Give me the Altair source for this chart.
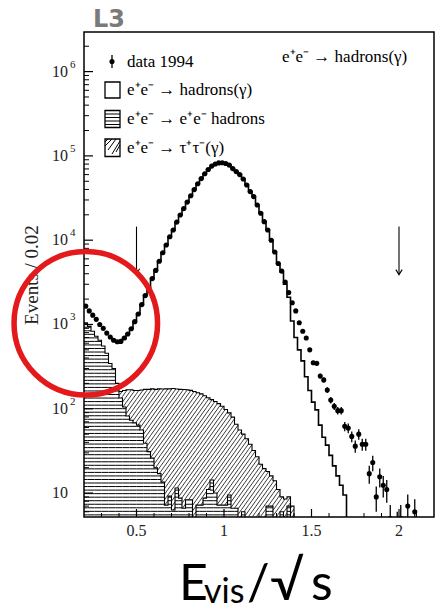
import math
import altair as alt
import pandas as pd

# ---------------------------------------------------------------
# Histogram contents, bin width 0.02 in E_vis / sqrt(s)
# ---------------------------------------------------------------
BIN_W = 0.02
X_DOMAIN = [0.2, 2.2]
Y_DOMAIN = [5.2, 2.95e6]


def centres(first, count):
    return [round(first + BIN_W * i, 2) for i in range(count)]


# data 1994 (events per bin), bins 0.21 ... 1.93
data_n = [
    1650, 1450, 1290, 1150, 1000, 900, 790, 710, 650, 625,
    630, 690, 770, 890, 1080, 1330, 1720, 2200, 2750, 3500,
    4380, 5620, 7100, 8750, 11000, 13200, 16400, 19900, 23700, 28300,
    33600, 39800, 46700, 53800, 61400, 68900, 75700, 80000, 82600, 82800,
    81300, 77800, 70700, 65100, 60000, 53100, 45100, 37700, 32900, 26100,
    20900, 16600, 13200, 10000, 7230, 5280, 4300, 3180, 2390, 1810,
    1450, 1050, 830, 690, 500, 352, 346, 245, 220, 167,
    127, 107, 95, 95, 62, 59, 47, 36, 50, 38,
    38, 17, 23, 9, 15.6, 12.4, 11,
]
data_x = centres(0.21, len(data_n))
# sparse high-energy tail of the data
data_tail_x = [1.95, 1.99, 2.01, 2.05, 2.09]
data_tail_n = [5, 4, 5, 7, 6]

# e+e- -> hadrons(gamma) simulation, bins 0.35 ... 1.69
mc_n = [
    690, 640, 615, 625, 680, 770, 890, 1080, 1330, 1720,
    2200, 2750, 3500, 4380, 5620, 7100, 8750, 11000, 13200, 16400,
    19900, 23700, 28300, 33600, 39800, 46700, 53800, 61400, 68900, 75700,
    80000, 82600, 82800, 81300, 77800, 70700, 65100, 60000, 53100, 45100,
    37700, 32900, 26100, 20900, 16600, 13200, 10000, 7230, 5280, 4200,
    3000, 2100, 1100, 700, 500, 370, 240, 165, 120, 97,
    64, 46, 37, 28, 21, 16, 12.4, 9.5,
]
mc_x = centres(0.35, len(mc_n))

# e+e- -> e+e- hadrons (two-photon), bins 0.21 ... 1.39
ggh_n = [
    1050, 950, 830, 725, 650, 555, 455, 345, 300, 200,
    134, 105, 82, 73, 68, 64, 56, 39, 31, 26,
    20, 17, 13.5, 7.2, 9.2, 6.3, 11.5, 8.7, 6.6, 8.3,
    8.3, 0, 7.2, 7.2, 8.7, 11, 14.3, 10, 7.2, 7.2,
    7.2, 9.5, 6.6, 6.6, 0, 6, 0, 0, 0, 0,
    0, 0, 7, 7, 0, 0, 6, 0, 7, 0,
]
ggh_x = centres(0.21, len(ggh_n))

# e+e- -> tau+tau-(gamma), bins 0.41 ... 1.39 (stacked on two-photon)
tau_n = [
    26, 60, 86, 95, 97, 101, 111, 131, 139, 146,
    150, 155, 158, 165, 163, 168, 160, 161, 163, 160,
    157, 160, 148, 143, 134, 124, 114, 112, 108, 100,
    91, 80, 73, 59, 56, 44, 44, 38, 32, 27,
    22, 19.5, 11, 9, 14, 11, 3, 8.5, 2, 7,
]
tau_x = centres(0.41, len(tau_n))

# selection cuts marked with arrows
cut_x = [0.5, 2.0]
cut_top = [14500, 14500]
cut_tip = [4000, 3900]

# axis ticks and labels
y_decades = [10, 100, 1e3, 1e4, 1e5, 1e6]
y_exponents = ["", "2", "3", "4", "5", "6"]
x_major = [0.5, 1.0, 1.5, 2.0]
x_labels = ["0.5", "1", "1.5", "2"]

# ---------------------------------------------------------------
W, H = 350, 485
SERIF = "'Liberation Serif', 'Times New Roman', serif"
LOG_MIN = math.log10(Y_DOMAIN[0])

xs = alt.Scale(domain=X_DOMAIN, nice=False, zero=False)
ys = alt.Scale(type="log", domain=Y_DOMAIN, nice=False)


def X(f="x"):
    return alt.X(f"{f}:Q", scale=xs, axis=None)


def Y(f="y"):
    return alt.Y(f"{f}:Q", scale=ys, axis=None)


def step_path(xc, n, close_right=True):
    rows = []
    for c, v in zip(xc, n):
        v = v if v > 0 else 1.0
        rows.append((c - BIN_W / 2, v))
        rows.append((c + BIN_W / 2, v))
    if close_right:
        rows.append((xc[-1] + BIN_W / 2, 1.0))
    return pd.DataFrame({"x": [r[0] for r in rows], "y": [r[1] for r in rows],
                         "i": range(len(rows))})


# stacked tau histogram top
ggh_map = dict(zip(ggh_x, ggh_n))
tau_top = [ggh_map.get(c, 0) + t for c, t in zip(tau_x, tau_n)]

# horizontal hatching for the two-photon histogram
H_STEP = 0.042
h_rows = []
for c, n in zip(ggh_x, ggh_n):
    if n <= Y_DOMAIN[0]:
        continue
    top = math.log10(n)
    k = 0
    while True:
        lv = LOG_MIN + H_STEP * (k + 0.6)
        if lv >= top - 0.01:
            break
        h_rows.append({"x": c - BIN_W / 2, "x2": c + BIN_W / 2, "y": 10 ** lv})
        k += 1
h_df = pd.DataFrame(h_rows)

# diagonal hatching for the tau histogram
SLOPE = 2.9
D_STEP = SLOPE * 4.0 / W * (X_DOMAIN[1] - X_DOMAIN[0])
d_rows = []
for c, hi_n in zip(tau_x, tau_top):
    a, b = c - BIN_W / 2, c + BIN_W / 2
    lo_n = ggh_map.get(c, 0)
    lo = math.log10(lo_n) if lo_n > Y_DOMAIN[0] else LOG_MIN
    hi = math.log10(hi_n)
    if hi <= lo:
        continue
    kmin = math.floor((lo - SLOPE * b) / D_STEP)
    kmax = math.ceil((hi - SLOPE * a) / D_STEP)
    for k in range(kmin, kmax + 1):
        cc = k * D_STEP
        x1 = max(a, (lo - cc) / SLOPE)
        x2 = min(b, (hi - cc) / SLOPE)
        if x2 > x1 + 1e-6:
            d_rows.append({"x": x1, "x2": x2,
                           "y": 10 ** (cc + SLOPE * x1), "y2": 10 ** (cc + SLOPE * x2)})
d_df = pd.DataFrame(d_rows)

tau_hatch = alt.Chart(d_df).mark_rule(color="#222", strokeWidth=0.9, clip=True).encode(
    x=X(), x2="x2:Q", y=Y(), y2="y2:Q")
tau_line = alt.Chart(step_path(tau_x, tau_top)).mark_line(
    color="black", strokeWidth=1.1, clip=True).encode(x=X(), y=Y(), order="i:Q")

ggh_hatch = alt.Chart(h_df).mark_rule(color="black", strokeWidth=1.0, clip=True).encode(
    x=X(), x2="x2:Q", y=Y())
ggh_line = alt.Chart(step_path(ggh_x, ggh_n)).mark_line(
    color="black", strokeWidth=1.1, clip=True).encode(x=X(), y=Y(), order="i:Q")

mc_line = alt.Chart(step_path(mc_x, mc_n)).mark_line(
    color="black", strokeWidth=1.6, clip=True).encode(x=X(), y=Y(), order="i:Q")

pts = pd.DataFrame({"x": data_x + data_tail_x, "y": data_n + data_tail_n})
pts["lo"] = [max(v - math.sqrt(v), 0.5) for v in pts["y"]]
pts["hi"] = [v + math.sqrt(v) for v in pts["y"]]
err = alt.Chart(pts).mark_rule(color="black", strokeWidth=1.3, clip=True).encode(
    x=X(), y=Y("lo"), y2="hi:Q")
dots = alt.Chart(pts).mark_circle(color="black", size=26, opacity=1, clip=True).encode(
    x=X(), y=Y())

cuts = pd.DataFrame({"x": cut_x, "top": cut_top, "tip": cut_tip})
cut_shaft = alt.Chart(cuts).mark_rule(color="black", strokeWidth=1.1).encode(
    x=X(), y=Y("top"), y2="tip:Q")
cut_head = alt.Chart(cuts).mark_point(
    shape="M-1,-1.6L0,0L1,-1.6", filled=False, color="black", strokeWidth=1.1,
    size=40, opacity=1).encode(x=X(), y=Y("tip"))

# inward axis ticks
y_minor = [m * 10 ** k for k in range(0, 7) for m in range(2, 10)
           if Y_DOMAIN[0] < m * 10 ** k < Y_DOMAIN[1]]
x_minor = [round(0.3 + 0.1 * i, 1) for i in range(19)]
x_minor = [v for v in x_minor if all(abs(v - m) > 1e-6 for m in x_major)]

ytick_major = alt.Chart(pd.DataFrame({"y": y_decades})).mark_rule(
    color="black", strokeWidth=1.2).encode(y=Y(), x=alt.value(0), x2=alt.value(9))
ytick_minor = alt.Chart(pd.DataFrame({"y": y_minor})).mark_rule(
    color="black", strokeWidth=1.0).encode(y=Y(), x=alt.value(0), x2=alt.value(5))
xtick_major = alt.Chart(pd.DataFrame({"x": x_major})).mark_rule(
    color="black", strokeWidth=1.2).encode(x=X(), y=alt.value(H), y2=alt.value(H - 8))
xtick_minor = alt.Chart(pd.DataFrame({"x": x_minor})).mark_rule(
    color="black", strokeWidth=1.0).encode(x=X(), y=alt.value(H), y2=alt.value(H - 4))

# tick labels
ylab_df = pd.DataFrame({"y": y_decades, "e": y_exponents})
ylab = alt.Chart(ylab_df).mark_text(
    font=SERIF, fontSize=16, color="#222", align="right", baseline="middle").encode(
    y=Y(), x=alt.value(-16), text="base:N").transform_calculate(base="'10'")
yexp = alt.Chart(ylab_df).mark_text(
    font=SERIF, fontSize=11, color="#222", align="left", baseline="middle", dy=-7).encode(
    y=Y(), x=alt.value(-14), text="e:N")
xlab = alt.Chart(pd.DataFrame({"x": x_major, "t": x_labels})).mark_text(
    font=SERIF, fontSize=16, color="#222", baseline="middle").encode(
    x=X(), y=alt.value(H + 14), text="t:N")

# legend inside the frame
leg_txt = pd.DataFrame({
    "px": [43, 43, 43, 43, 198],
    "py": [35, 63, 92, 120.5, 30],
    "t": ["data 1994", "e⁺e⁻ → hadrons(γ)", "e⁺e⁻ → e⁺e⁻ hadrons",
          "e⁺e⁻ → τ⁺τ⁻(γ)", "e⁺e⁻ → hadrons(γ)"],
})
PX = alt.X("px:Q", scale=None, axis=None)
PY = alt.Y("py:Q", scale=None, axis=None)
legend_text = alt.Chart(leg_txt).mark_text(
    font=SERIF, fontSize=17, color="black", align="left", baseline="alphabetic").encode(
    x=PX, y=PY, text="t:N")

boxes = pd.DataFrame({"px": [21, 21, 21], "px2": [36, 36, 36],
                      "py": [50, 78.5, 107], "py2": [66, 95.5, 124.5]})
legend_boxes = alt.Chart(boxes).mark_rect(
    fill="white", stroke="black", strokeWidth=1.3).encode(
    x=PX, x2="px2:Q", y=PY, y2="py2:Q")
sw_lines = pd.DataFrame({
    "px": [21, 21, 21, 21, 21, 21, 24, 28, 32],
    "px2": [36, 36, 36, 36, 24, 28, 32, 36, 36],
    "py": [82, 85.5, 89, 92.5, 110, 114, 118, 122, 120],
    "py2": [82, 85.5, 89, 92.5, 107, 107, 107, 109, 113],
})
legend_sw = alt.Chart(sw_lines).mark_rule(color="black", strokeWidth=1.0).encode(
    x=PX, x2="px2:Q", y=PY, y2="py2:Q")
leg_sym = pd.DataFrame({"px": [28], "py": [29.5], "py_lo": [23], "py_hi": [36]})
legend_err = alt.Chart(leg_sym).mark_rule(color="black", strokeWidth=1.3).encode(
    x=PX, y=alt.Y("py_lo:Q", scale=None, axis=None), y2="py_hi:Q")
legend_dot = alt.Chart(leg_sym).mark_circle(color="black", size=26, opacity=1).encode(
    x=PX, y=PY)

# titles and labels around the frame
ytitle = alt.Chart(pd.DataFrame({"t": ["Events / 0.02"]})).mark_text(
    font=SERIF, fontSize=19, color="#222", angle=270, baseline="middle").encode(
    x=alt.value(-52), y=alt.value(243), text="t:N")
l3 = alt.Chart(pd.DataFrame({"t": ["L3"]})).mark_text(
    font="DejaVu Sans", fontWeight="bold", fontSize=24, color="#7a7a7a",
    align="left", baseline="alphabetic").encode(
    x=alt.value(9), y=alt.value(-5), text="t:N")

SANS = "Lato"
x_title = pd.DataFrame({
    "t": ["E", "vis", "/", "√", "s"],
    "px": [95, 120, 163, 186, 227],
    "py": [568, 571, 568, 568, 568],
    "fs": [50, 34, 50, 54, 50],
})
xt = alt.Chart(x_title).mark_text(
    font=SANS, color="black", align="left", baseline="alphabetic").encode(
    x=PX, y=PY, text="t:N",
    size=alt.Size("fs:Q", scale=None, legend=None))

# red highlight ring
ring = alt.Chart(pd.DataFrame({"t": [1]})).mark_point(
    shape="circle", filled=False, color="#e3191c", strokeWidth=5.5, size=20600,
    opacity=1).encode(x=alt.value(1.8), y=alt.value(291.3))

chart = alt.layer(
    tau_hatch, tau_line, ggh_hatch, ggh_line, mc_line, err, dots,
    cut_shaft, cut_head,
    ytick_major, ytick_minor, xtick_major, xtick_minor,
    ylab, yexp, xlab,
    legend_boxes, legend_sw, legend_err, legend_dot, legend_text,
    ytitle, l3, xt, ring,
).properties(
    width=W, height=H,
    autosize=alt.AutoSizeParams(type="none"),
    padding={"left": 84, "top": 32, "right": 9, "bottom": 95},
    background="white",
).configure_view(stroke="black", strokeWidth=1.5)

chart.save("out.html", embed_options={"renderer": "svg", "actions": False})
